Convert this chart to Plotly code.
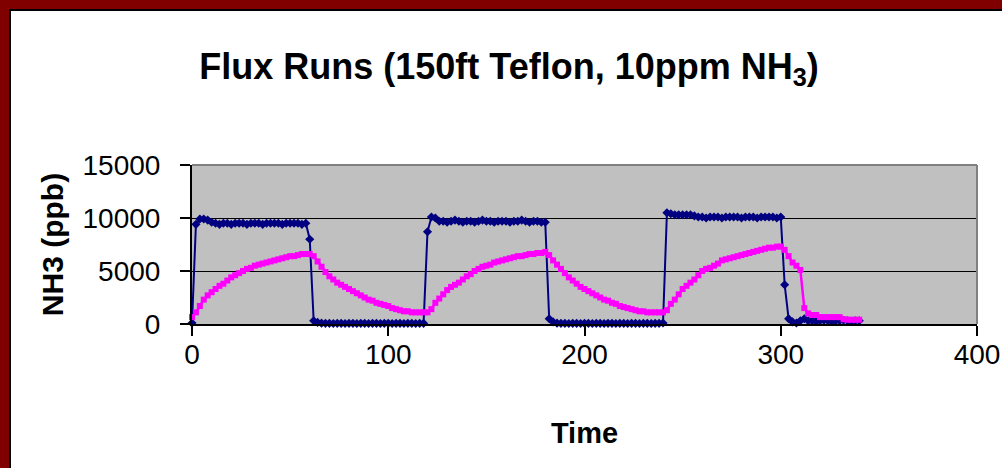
import plotly.graph_objects as go

# ---------------- data ----------------
time = list(range(0, 342, 2))

nh3_blue = [
    100, 9400, 9900, 9900, 9800, 9600,
    9500, 9400, 9500, 9500, 9400, 9500, 9500, 9500, 9400, 9500, 9500, 9500,
    9400, 9500, 9500, 9500, 9500, 9400, 9500, 9500, 9500, 9500, 9400, 9500,
    8000, 300, 150,
    80, 60, 60, 50, 60, 60, 50, 60, 60, 50, 60, 60, 50, 60, 60, 50, 60, 60,
    50, 60, 60, 50, 60, 60, 50, 60, 60,
    8700, 10100, 10000, 9700,
    9700, 9600, 9700, 9800, 9700, 9600, 9700, 9700, 9600, 9700, 9800, 9700, 9700,
    9600, 9700, 9700, 9700, 9600, 9700, 9700, 9800, 9700, 9600, 9700, 9700, 9600,
    9600, 500, 200,
    80, 60, 60, 50, 60, 60, 50, 60, 60, 50, 60, 60, 50, 60, 60, 50, 60, 60,
    50, 60, 60, 50, 60, 60, 50, 60, 60,
    100, 10500, 10400,
    10300, 10300, 10300, 10300, 10300, 10200,
    10100, 10100, 10000, 10100, 10100, 10100, 10000, 10100, 10100, 10100, 10100,
    10000, 10100, 10100, 10100, 10000, 10100, 10100, 10100, 10100, 10000, 10100,
    3700, 500, 200, 100, 300, 500, 300,
    300, 250, 300, 350, 300, 250, 300, 300, 350, 300, 250, 300, 300,
]

nh3_magenta = [
    650, 1100, 1700, 2300, 2700, 3000, 3300, 3600, 3800, 4100, 4400, 4600, 4800,
    5000, 5200, 5300, 5500, 5600, 5700, 5800, 5900, 6000, 6100, 6200, 6300, 6400,
    6400, 6500, 6600, 6600, 6600,
    6400, 5900, 5400, 4900, 4500, 4200, 3900, 3700, 3500, 3300, 3100, 2900, 2700,
    2500, 2300, 2200, 2000, 1900, 1800, 1700, 1500, 1400, 1300, 1200, 1200, 1100,
    1100, 1100, 1100, 1100,
    1400, 2000, 2400, 2800, 3200, 3500, 3700, 3900, 4200, 4500, 4700, 5000, 5200,
    5400, 5500, 5600, 5800, 5900, 6000, 6100, 6200, 6300, 6400, 6400, 6500, 6600,
    6600, 6700, 6700, 6800,
    6500, 6000, 5600, 5200, 4800, 4400, 4100, 3800, 3500, 3300, 3100, 2900, 2700,
    2500, 2300, 2200, 2000, 1900, 1700, 1600, 1500, 1400, 1300, 1200, 1200, 1100,
    1100, 1100, 1100, 1100,
    1300, 1900, 2300, 2800, 3300, 3600, 3900, 4200, 4600, 5000, 5200, 5300, 5500,
    5700, 6000, 6100, 6200, 6300, 6400, 6500, 6600, 6700, 6800, 6900, 7000, 7100,
    7200, 7200, 7300, 7300,
    7000, 6400, 5800, 5500, 5100, 1500, 1000, 850, 850, 650, 650, 650, 650, 650,
    650, 450, 400, 400, 400, 400,
]

x_ticks = [0, 100, 200, 300, 400]
y_ticks = [0, 5000, 10000, 15000]

assert len(time) == len(nh3_blue) == len(nh3_magenta)

# ---------------- layout geometry ----------------
W, H = 1002, 468
L, R, T, B = 192, 25, 165, 144
PW, PH = W - L - R, H - T - B


def px(xp):
    return (xp - L) / PW


def py(yp):
    return (H - B - yp) / PH


FONT = "Liberation Sans, Arial, sans-serif"
MAROON = "#800000"

fig = go.Figure()
fig.add_trace(go.Scatter(
    x=time, y=nh3_blue, mode="lines+markers",
    line=dict(color="#000080", width=2),
    marker=dict(symbol="diamond", size=7, color="#000080"),
    cliponaxis=False, name="NH3 blue",
))
fig.add_trace(go.Scatter(
    x=time, y=nh3_magenta, mode="lines+markers",
    line=dict(color="#FF00FF", width=2.5),
    marker=dict(symbol="square", size=6, color="#FF00FF"),
    cliponaxis=False, name="NH3 magenta",
))

shapes = [
    # plot area top/right grey border
    dict(type="line", xref="paper", yref="paper", x0=0, x1=1, y0=1, y1=1,
         line=dict(color="#808080", width=2), layer="above"),
    dict(type="line", xref="paper", yref="paper", x0=1, x1=1, y0=0, y1=1,
         line=dict(color="#808080", width=2), layer="above"),
    # outer maroon frame (top & left) with thin black inner edge
    dict(type="rect", xref="paper", yref="paper", x0=px(0), x1=px(W), y0=py(9), y1=py(0),
         fillcolor=MAROON, line=dict(width=0), layer="above"),
    dict(type="rect", xref="paper", yref="paper", x0=px(0), x1=px(9), y0=py(H), y1=py(0),
         fillcolor=MAROON, line=dict(width=0), layer="above"),
    dict(type="rect", xref="paper", yref="paper", x0=px(9), x1=px(W), y0=py(11), y1=py(9),
         fillcolor="black", line=dict(width=0), layer="above"),
    dict(type="rect", xref="paper", yref="paper", x0=px(9), x1=px(11), y0=py(H), y1=py(9),
         fillcolor="black", line=dict(width=0), layer="above"),
]

fig.update_layout(
    width=W, height=H, autosize=False,
    margin=dict(l=L, r=R, t=T, b=B, pad=0, autoexpand=False),
    paper_bgcolor="white", plot_bgcolor="#C0C0C0",
    showlegend=False,
    font=dict(family=FONT, color="black"),
    title=dict(
        text="<b>Flux Runs (150ft Teflon, 10ppm NH<sub>3</sub>)</b>",
        font=dict(family=FONT, size=36, color="black"),
        x=509 / W, xanchor="center", xref="container",
        y=1 - 66 / H, yanchor="middle", yref="container",
    ),
    xaxis=dict(
        range=[0, 400], tickmode="array", tickvals=x_ticks,
        ticks="outside", ticklen=10, tickwidth=2, tickcolor="black",
        showline=True, linecolor="black", linewidth=2,
        showgrid=False, zeroline=False, automargin=False,
        tickfont=dict(family=FONT, size=28, color="black"),
        ticklabelstandoff=-6,
        title=dict(text="<b>Time</b>", standoff=54,
                   font=dict(family=FONT, size=29, color="black")),
    ),
    yaxis=dict(
        range=[0, 15000], tickmode="array", tickvals=y_ticks, tickformat="d",
        ticks="outside", ticklen=10, tickwidth=2, tickcolor="black",
        showline=True, linecolor="black", linewidth=2,
        showgrid=True, gridcolor="black", gridwidth=1, zeroline=False,
        automargin=False,
        tickfont=dict(family=FONT, size=28, color="black"),
        ticklabelstandoff=14,
        title=dict(text="<b>NH3 (ppb)</b>", standoff=10,
                   font=dict(family=FONT, size=30, color="black")),
    ),
    shapes=shapes,
)

fig.write_html(
    "out.html",
    config={"responsive": False, "displayModeBar": False},
    post_script=(
        "document.documentElement.style.overflow='hidden';"
        "document.body.style.overflow='hidden';"
        "document.body.style.margin='0';"
    ),
)
